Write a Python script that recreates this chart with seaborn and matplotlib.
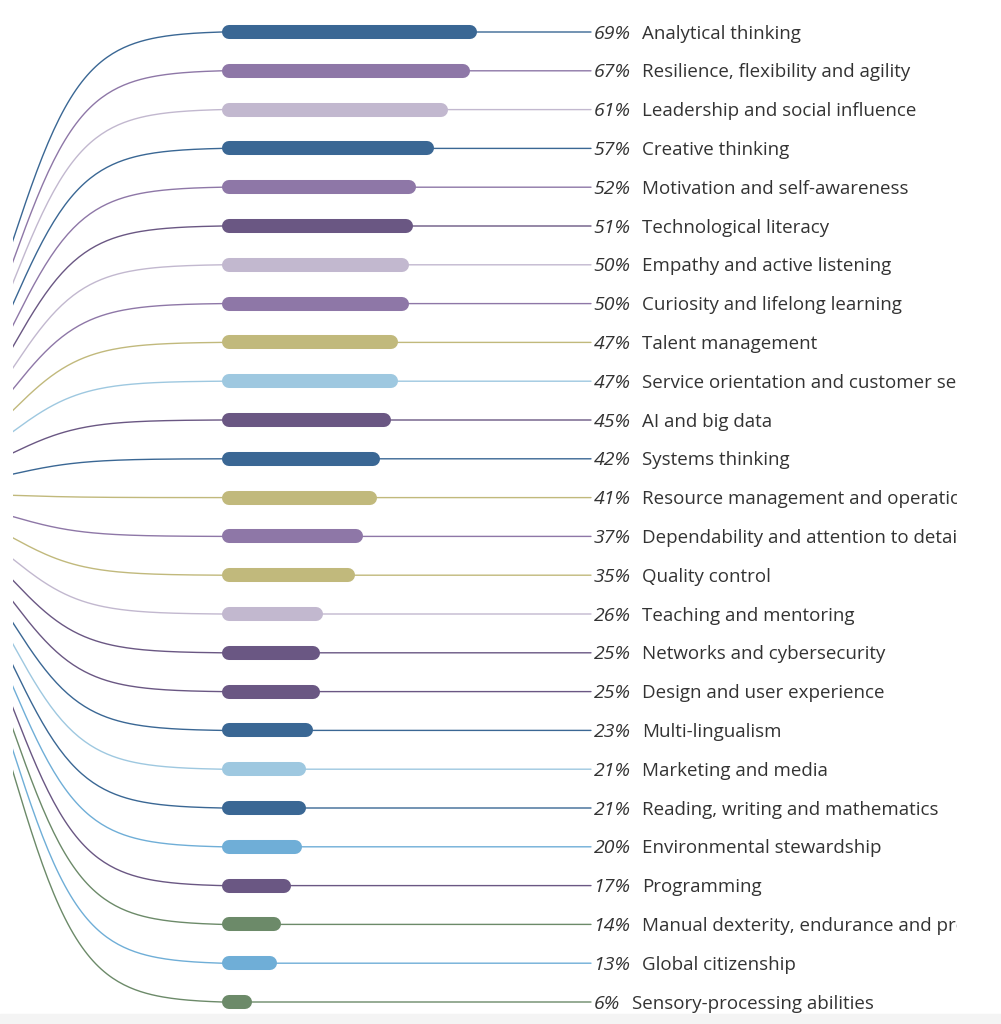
import numpy as np
import pandas as pd
import matplotlib
matplotlib.use("Agg")
import matplotlib.pyplot as plt
import seaborn as sns
from matplotlib.patches import Rectangle

# share of employers rating each skill as rising in importance
skills = [
    "Analytical thinking",
    "Resilience, flexibility and agility",
    "Leadership and social influence",
    "Creative thinking",
    "Motivation and self-awareness",
    "Technological literacy",
    "Empathy and active listening",
    "Curiosity and lifelong learning",
    "Talent management",
    "Service orientation and customer service",
    "AI and big data",
    "Systems thinking",
    "Resource management and operations",
    "Dependability and attention to detail",
    "Quality control",
    "Teaching and mentoring",
    "Networks and cybersecurity",
    "Design and user experience",
    "Multi-lingualism",
    "Marketing and media",
    "Reading, writing and mathematics",
    "Environmental stewardship",
    "Programming",
    "Manual dexterity, endurance and precision",
    "Global citizenship",
    "Sensory-processing abilities",
]
shares = [69, 67, 61, 57, 52, 51, 50, 50, 47, 47, 45, 42, 41, 37, 35,
          26, 25, 25, 23, 21, 21, 20, 17, 14, 13, 6]
groups = [
    "Cognitive", "Self-efficacy", "Working with others", "Cognitive",
    "Self-efficacy", "Technology", "Working with others", "Self-efficacy",
    "Management", "Engagement", "Technology", "Cognitive", "Management",
    "Self-efficacy", "Management", "Working with others", "Technology",
    "Technology", "Cognitive", "Engagement", "Cognitive", "Ethics",
    "Technology", "Physical abilities", "Ethics", "Physical abilities",
]

group_colors = {
    "Cognitive": "#3a6794",
    "Self-efficacy": "#8e77a7",
    "Working with others": "#c2b8cf",
    "Technology": "#6a5783",
    "Management": "#c1b97c",
    "Engagement": "#9ec8e0",
    "Ethics": "#6faed7",
    "Physical abilities": "#6c8a69",
}

sns.set_theme(style="white")
plt.rcParams["font.family"] = ["Open Sans", "DejaVu Sans"]

W, H = 1001, 1024
fig = plt.figure(figsize=(W / 100, H / 100), dpi=100)
fig.patches.append(Rectangle((0, 0), 1, 10 / H, transform=fig.transFigure,
                             color="#f4f4f4", zorder=-1))
ax = fig.add_axes([13 / W, 0, (957 - 13) / W, 1])

# layout in pixels -> data units (x in percent, y in rows)
PX0, PXS = 230.6, 3.567
ROW0, ROWS = 32, 38.8
n = len(skills)

bar_start = (222 - PX0) / PXS
curve_mid = (13 - PX0) / PXS
half = bar_start - curve_mid
line_end = (591 - PX0) / PXS

t = np.linspace(-6, 6, 150)
sig = 1 / (1 + np.exp(-t))
s = (sig - sig[0]) / (sig[-1] - sig[0])

frames = []
for i, skill in enumerate(skills):
    mid = (240 - ROW0) / ROWS + i * (532 / 25) / ROWS
    y0 = 2 * mid - i
    xs = np.append(curve_mid + t / 6 * half, line_end)
    ys = np.append(y0 + (i - y0) * s, i)
    frames.append(pd.DataFrame({"x": xs, "y": ys, "skill": skill}))
curves = pd.concat(frames, ignore_index=True)

pal = {sk: group_colors[g] for sk, g in zip(skills, groups)}
sns.lineplot(data=curves, x="x", y="y", hue="skill", palette=pal, sort=False,
             estimator=None, legend=False, lw=1.0, ax=ax)

r = 7 / PXS
for i, (pct, g) in enumerate(zip(shares, groups)):
    ax.plot([bar_start + r, pct - r], [i, i], color=group_colors[g], lw=10.1,
            solid_capstyle="round", zorder=3)

txt_color = "#333333"
for i, (skill, pct) in enumerate(zip(skills, shares)):
    t1 = ax.text((593.5 - PX0) / PXS, i + 0.04, f"{pct}%", ha="left",
                 va="center", style="italic", fontsize=14, color=txt_color,
                 clip_on=True)
    a = ax.annotate(skill, xy=(1, 0.5), xycoords=t1, xytext=(12, 0),
                    textcoords="offset pixels", ha="left", va="center",
                    fontsize=13.5, color=txt_color, annotation_clip=False)
    a.set_clip_on(True)
    a.set_clip_path(ax.patch)

ax.set_xlim((13 - PX0) / PXS, (957 - PX0) / PXS)
ax.set_ylim((H - ROW0) / ROWS, -ROW0 / ROWS)
ax.set_facecolor("none")
ax.axis("off")

fig.savefig("out.png", dpi=100)
